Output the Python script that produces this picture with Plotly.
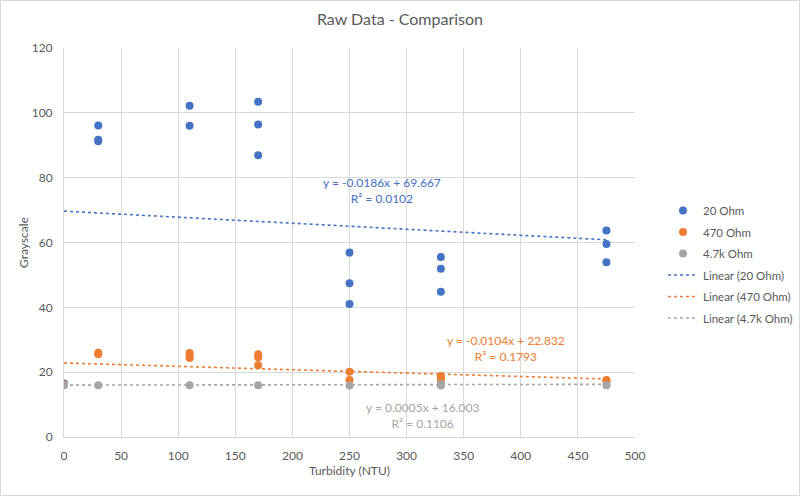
import numpy as np
import plotly.graph_objects as go

# ---- data ----
series_names = ["20 Ohm", "470 Ohm", "4.7k Ohm"]
x_20 = [0, 30, 30, 30, 110, 110, 170, 170, 170, 250, 250, 250, 330, 330, 330, 475, 475, 475]
y_20 = [16.5, 96.1, 91.7, 91.2, 102.2, 96.0, 103.4, 96.4, 86.9, 56.9, 47.4, 41.0, 55.5, 51.9, 44.8, 63.7, 59.5, 53.9]
x_470 = [0, 30, 30, 110, 110, 110, 170, 170, 170, 250, 250, 330, 330, 330, 475, 475]
y_470 = [16.2, 26.0, 25.5, 25.9, 25.0, 24.4, 25.5, 24.6, 22.1, 20.1, 17.6, 18.8, 18.2, 17.6, 17.6, 17.2]
x_4k7 = [0, 30, 110, 170, 250, 330, 330, 475]
y_4k7 = [16.0, 16.0, 16.0, 16.0, 15.9, 16.4, 15.9, 16.0]
trend_slopes = [-0.0186, -0.0104, 0.0005]
trend_intercepts = [69.667, 22.832, 16.003]
trend_r2 = [0.0102, 0.1793, 0.1106]

colors = ["#4472C4", "#ED7D31", "#A5A5A5"]
FONT = "Lato"
TXT = "#595959"

xs = [x_20, x_470, x_4k7]
ys = [y_20, y_470, y_4k7]

fig = go.Figure()
for i, name in enumerate(series_names):
    fig.add_trace(go.Scatter(
        x=xs[i], y=ys[i], mode="markers", name=name, legendgroup="s%d" % i,
        marker=dict(color=colors[i], size=8, line=dict(width=0)),
    ))
for i, name in enumerate(series_names):
    xx = np.array([min(xs[i]), max(xs[i])], dtype=float)
    yy = trend_slopes[i] * xx + trend_intercepts[i]
    fig.add_trace(go.Scatter(
        x=xx, y=yy, mode="lines", name="Linear (%s)" % name, legendgroup="t%d" % i,
        line=dict(color=colors[i], width=1.6, dash="dot"),
    ))

ann_pos = [(278.5, 76.1), (387, 27.3), (314, 6.5)]
for i in range(3):
    s = trend_slopes[i]
    eq = "y = %s%.4fx + %.3f" % ("-" if s < 0 else "", abs(s), trend_intercepts[i])
    fig.add_annotation(
        x=ann_pos[i][0], y=ann_pos[i][1], xref="x", yref="y",
        text=eq + "<br>R² = %.4f" % trend_r2[i], showarrow=False,
        font=dict(family=FONT, size=12, color=colors[i]), align="center",
    )

L, R, T, B = 64, 165, 48, 59
W, H = 800, 496
pw, ph = W - L - R, H - T - B
fig.add_shape(type="rect", xref="paper", yref="paper",
              x0=(0.5 - L) / pw, x1=(W - 0.5 - L) / pw,
              y0=-(B - 0.5) / ph, y1=1 + (T - 0.5) / ph,
              line=dict(color="#d9d9d9", width=1), fillcolor="rgba(0,0,0,0)", layer="below")

fig.update_layout(
    width=W, height=H, margin=dict(l=L, r=R, t=T, b=B, autoexpand=False),
    paper_bgcolor="white", plot_bgcolor="white",
    font=dict(family=FONT, size=12, color=TXT),
    title=dict(text="Raw Data - Comparison", x=0.5, xanchor="center", y=1 - 19 / H,
               yanchor="middle", yref="container", font=dict(family=FONT, size=16, color=TXT)),
    legend=dict(x=663 / W, xref="container", xanchor="left",
                y=(437 - 264.5) / ph, yanchor="middle",
                font=dict(family=FONT, size=11.5, color=TXT), tracegroupgap=2.5,
                bgcolor="rgba(0,0,0,0)"),
    showlegend=True,
)
fig.update_xaxes(range=[0, 500], dtick=50, showgrid=True, gridcolor="#d9d9d9", gridwidth=1,
                 zeroline=False, showline=True, linecolor="#d9d9d9", ticks="",
                 tickfont=dict(family=FONT, size=12, color=TXT), ticklabelstandoff=8,
                 title=dict(text="Turbidity (NTU)", font=dict(family=FONT, size=12, color=TXT), standoff=4))
fig.update_yaxes(range=[0, 120], dtick=20, showgrid=True, gridcolor="#d9d9d9", gridwidth=1,
                 zeroline=False, showline=True, linecolor="#d9d9d9", ticks="",
                 tickfont=dict(family=FONT, size=12, color=TXT), ticklabelstandoff=8,
                 title=dict(text="Grayscale", font=dict(family=FONT, size=12, color=TXT), standoff=0))

fig.write_html("out.html")
